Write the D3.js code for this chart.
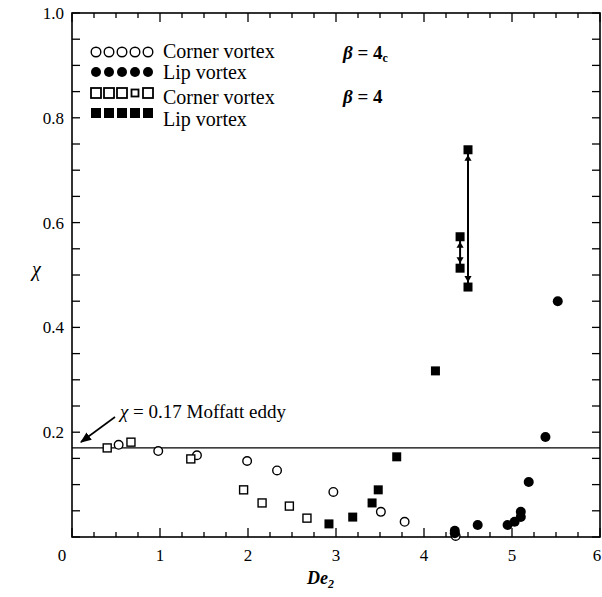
<!DOCTYPE html>
<html>
<head>
<meta charset="utf-8">
<script src="https://cdn.jsdelivr.net/npm/d3@7"></script>
<style>
  body { margin: 0; background: #fff; }
</style>
</head>
<body>
<div id="vis"></div>
<script>
// data (x = De2, y = chi)
const openCircles = [[0.53, 0.176], [0.98, 0.164], [1.42, 0.156], [1.99, 0.145], [2.33, 0.127],
  [2.97, 0.086], [3.51, 0.048], [3.78, 0.029], [4.36, 0.002]];
const filledCircles = [[4.35, 0.012], [4.35, 0.007], [4.61, 0.023], [4.95, 0.023], [5.03, 0.029],
  [5.10, 0.038], [5.10, 0.048], [5.19, 0.105], [5.38, 0.191], [5.52, 0.450]];
const openSquares = [[0.40, 0.170], [0.67, 0.181], [1.35, 0.149], [1.95, 0.090], [2.16, 0.065],
  [2.47, 0.059], [2.67, 0.036]];
const filledSquares = [[2.92, 0.025], [3.19, 0.038], [3.41, 0.065], [3.48, 0.090], [3.69, 0.153],
  [4.13, 0.317], [4.41, 0.573], [4.41, 0.513], [4.50, 0.739], [4.50, 0.477]];
// vertical ranges joining pairs of lip vortex points
const ranges = [[4.50, 0.739, 0.477], [4.41, 0.573, 0.513]];
const moffatt = 0.17;
const xTicks = [0, 1, 2, 3, 4, 5, 6];
const yTicks = [0.2, 0.4, 0.6, 0.8, 1.0];

const W = 602, H = 597;
const margin = {top: 13, left: 72, right: 2, bottom: 60};

const svg = d3.select('#vis').append('svg')
  .attr('width', W).attr('height', H)
  .attr('font-family', '"Liberation Serif", "DejaVu Serif", serif');

const x = d3.scaleLinear().domain([0, 6]).range([margin.left, W - margin.right]);
const y = d3.scaleLinear().domain([0, 1]).range([H - margin.bottom, margin.top]);

const x0 = x.range()[0], x1 = x.range()[1], y0 = y.range()[0], y1 = y.range()[1];

// frame
svg.append('rect')
  .attr('x', x0).attr('y', y1)
  .attr('width', x1 - x0).attr('height', y0 - y1)
  .attr('fill', 'none').attr('stroke', '#000').attr('stroke-width', 1.6);

// inward ticks on all four sides
const xMinor = d3.range(0, 6.001, 0.25);
const yMinor = d3.range(0, 1.001, 0.05);
const tickG = svg.append('g').attr('stroke', '#000').attr('stroke-width', 1.3);
xMinor.forEach(v => {
  const len = Math.abs(v - Math.round(v)) < 1e-6 ? 9 : 5;
  tickG.append('line').attr('x1', x(v)).attr('x2', x(v)).attr('y1', y0).attr('y2', y0 - len);
  tickG.append('line').attr('x1', x(v)).attr('x2', x(v)).attr('y1', y1).attr('y2', y1 + len);
});
yMinor.forEach(v => {
  tickG.append('line').attr('x1', x0).attr('x2', x0 + 8).attr('y1', y(v)).attr('y2', y(v));
  tickG.append('line').attr('x1', x1).attr('x2', x1 - 8).attr('y1', y(v)).attr('y2', y(v));
});

// tick labels
svg.append('g').selectAll('text').data(xTicks).join('text')
  .attr('x', d => d === 0 ? x(d) - 10 : (d === 6 ? x(d) - 3 : x(d)))
  .attr('y', y0 + 24)
  .attr('text-anchor', 'middle')
  .attr('font-size', 17)
  .text(d => d);

svg.append('g').selectAll('text').data(yTicks).join('text')
  .attr('x', x0 - 8)
  .attr('y', d => y(d))
  .attr('dy', '0.35em')
  .attr('text-anchor', 'end')
  .attr('font-size', 17)
  .text(d => d.toFixed(1));

// axis titles
svg.append('text')
  .attr('x', 32).attr('y', 276)
  .attr('font-size', 20).attr('font-style', 'italic')
  .text('χ');

const xt = svg.append('text')
  .attr('x', 307).attr('y', 584)
  .attr('font-size', 18).attr('font-style', 'italic').attr('font-weight', 'bold');
xt.append('tspan').text('De');
xt.append('tspan').attr('font-size', 12).attr('dy', 4).text('2');

// Moffatt eddy line
svg.append('line')
  .attr('x1', x0).attr('x2', x1)
  .attr('y1', y(moffatt)).attr('y2', y(moffatt))
  .attr('stroke', '#000').attr('stroke-width', 1.4);

svg.append('defs').append('marker')
  .attr('id', 'arrow').attr('viewBox', '0 0 10 10')
  .attr('refX', 9).attr('refY', 5)
  .attr('markerWidth', 7).attr('markerHeight', 7)
  .attr('orient', 'auto')
  .append('path').attr('d', 'M0,1 L10,5 L0,9 Z').attr('fill', '#000');

svg.append('line')
  .attr('x1', 115).attr('y1', 417).attr('x2', 81).attr('y2', 442)
  .attr('stroke', '#000').attr('stroke-width', 1.6)
  .attr('marker-end', 'url(#arrow)');

const mt = svg.append('text').attr('x', 120).attr('y', 418).attr('font-size', 19);
mt.append('tspan').attr('font-style', 'italic').text('χ');
mt.append('tspan').text(' = 0.17 Moffatt eddy');

// range lines with small arrowheads
const rg = svg.append('g');
ranges.forEach(r => {
  rg.append('line')
    .attr('x1', x(r[0])).attr('x2', x(r[0]))
    .attr('y1', y(r[1])).attr('y2', y(r[2]))
    .attr('stroke', '#000').attr('stroke-width', 2);
  rg.append('path')
    .attr('d', d3.symbol(d3.symbolTriangle, 22)())
    .attr('transform', `translate(${x(r[0])},${y(r[1]) + 9})`);
  rg.append('path')
    .attr('d', d3.symbol(d3.symbolTriangle, 22)())
    .attr('transform', `translate(${x(r[0])},${y(r[2]) - 9}) rotate(180)`);
});

// data points
const pts = svg.append('g');
pts.selectAll('.oc').data(openCircles).join('circle')
  .attr('cx', d => x(d[0])).attr('cy', d => y(d[1])).attr('r', 4.3)
  .attr('fill', '#fff').attr('stroke', '#000').attr('stroke-width', 1.4);
pts.selectAll('.os').data(openSquares).join('rect')
  .attr('x', d => x(d[0]) - 4).attr('y', d => y(d[1]) - 4)
  .attr('width', 8).attr('height', 8)
  .attr('fill', '#fff').attr('stroke', '#000').attr('stroke-width', 1.4);
pts.selectAll('.fs').data(filledSquares).join('rect')
  .attr('x', d => x(d[0]) - 4.5).attr('y', d => y(d[1]) - 4.5)
  .attr('width', 9).attr('height', 9).attr('fill', '#000');
pts.selectAll('.fc').data(filledCircles).join('circle')
  .attr('cx', d => x(d[0])).attr('cy', d => y(d[1])).attr('r', 5)
  .attr('fill', '#000');

// legend
const lx = d3.range(5).map(i => 96 + i * 13);
const leg = svg.append('g');
lx.forEach((cx, i) => {
  leg.append('circle').attr('cx', cx).attr('cy', 52).attr('r', 4.8)
    .attr('fill', '#fff').attr('stroke', '#000').attr('stroke-width', 1.4);
  leg.append('circle').attr('cx', cx).attr('cy', 72).attr('r', 5).attr('fill', '#000');
  const s = i === 3 ? 7 : 10;
  leg.append('rect').attr('x', cx - s / 2).attr('y', 93 - s / 2).attr('width', s).attr('height', s)
    .attr('fill', '#fff').attr('stroke', '#000').attr('stroke-width', 1.8);
  leg.append('rect').attr('x', cx - 5).attr('y', 108).attr('width', 10).attr('height', 10).attr('fill', '#000');
});
const legText = [['Corner vortex', 58], ['Lip vortex', 79], ['Corner vortex', 104], ['Lip vortex', 126]];
legText.forEach(t => {
  leg.append('text').attr('x', 163).attr('y', t[1]).attr('font-size', 20).text(t[0]);
});

const b1 = svg.append('text').attr('x', 343).attr('y', 59).attr('font-size', 19).attr('font-weight', 'bold');
b1.append('tspan').attr('font-style', 'italic').text('β');
b1.append('tspan').text(' = 4');
b1.append('tspan').attr('font-size', 12).attr('dy', 3).text('c');

const b2 = svg.append('text').attr('x', 343).attr('y', 103).attr('font-size', 19).attr('font-weight', 'bold');
b2.append('tspan').attr('font-style', 'italic').text('β');
b2.append('tspan').text(' = 4');
</script>
</body>
</html>
